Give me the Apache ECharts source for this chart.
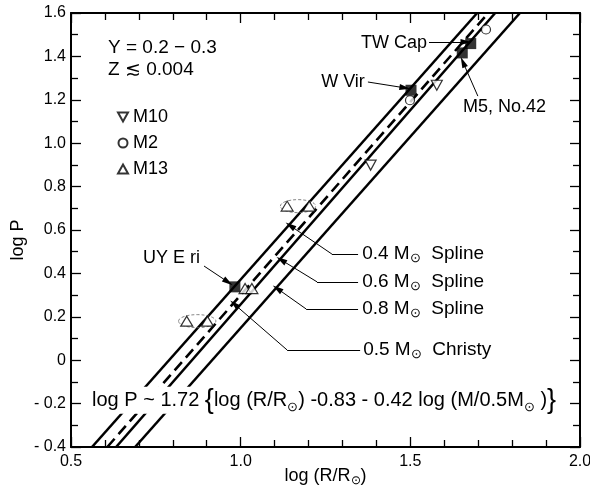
<!DOCTYPE html>
<html>
<head>
<meta charset="utf-8">
<script src="https://cdn.jsdelivr.net/npm/echarts@6/dist/echarts.min.js"></script>
<style>
html, body { margin: 0; padding: 0; background: #fff; }
#chart { width: 590px; height: 489px; }
</style>
</head>
<body>
<div id="chart"></div>
<script>
// 周期-半径关系图 (log P vs log R/R⊙)

// model lines, [log R, log P] end points
const spline04 = [[0.562, -0.4], [1.697, 1.6]];
const christy05 = [[0.607, -0.4], [1.730, 1.6]];
const spline06 = [[0.633, -0.4], [1.750, 1.6]];
const spline08 = [[0.689, -0.4], [1.823, 1.6]];

// field stars (filled squares)
const starNames = ['UY E ri', 'W Vir', 'M5, No.42', 'TW Cap'];
const starPts = [[0.983, 0.338], [1.502, 1.244], [1.653, 1.416], [1.678, 1.459]];

// cluster stars
const m10 = [[1.383, 0.899], [1.578, 1.267]];
const m2 = [[1.499, 1.198], [1.723, 1.524]];
const m13 = [[0.841, 0.180], [0.902, 0.180], [1.013, 0.330], [1.033, 0.330], [1.137, 0.710], [1.202, 0.710]];

// y tick labels
const yTicks = [-0.4, -0.2, 0, 0.2, 0.4, 0.6, 0.8, 1.0, 1.2, 1.4, 1.6];

// annotation placement (data coords)
const starLabelAt = [[0.880, 0.471, 'right'], [1.366, 1.282, 'right'], [1.655, 1.167, 'left'], [1.549, 1.461, 'right']];
const starArrows = [
    [[0.892, 0.434], [0.963, 0.360]],
    [[1.375, 1.282], [1.484, 1.255]],
    [[1.699, 1.217], [1.655, 1.374]],
    [[1.555, 1.466], [1.664, 1.466]]
];
const modelLabels = ['0.4', '0.6', '0.8', '0.5'];
const modelKinds = ['Spline', 'Spline', 'Spline', 'Christy'];
const modelLines = [spline04, spline06, spline08, christy05];
const modelLabelAt = [[1.358, 0.489], [1.358, 0.361], [1.358, 0.236], [1.361, 0.047]];
// [leader end, knee, log P where the arrow meets its line]
const modelLeaders = [
    [[1.346, 0.489], [1.269, 0.489], 0.620],
    [[1.346, 0.361], [1.225, 0.361], 0.462],
    [[1.346, 0.236], [1.193, 0.236], 0.330],
    [[1.352, 0.047], [1.137, 0.047], 0.258]
];
const pairRings = [[1.169, 0.710, 0.052, 0.030], [0.872, 0.180, 0.055, 0.030]];

const FONT = "'Liberation Sans', Arial, sans-serif";
const SUN = '\u2299';

function xOnLine(line, y) {
    const a = line[0], b = line[1];
    return a[0] + (y - a[1]) * (b[0] - a[0]) / (b[1] - a[1]);
}

function mkX(pos, labels) {
    return {
        type: 'value', position: pos, min: 0.5, max: 2.0, interval: 0.5,
        axisLine: { show: true, onZero: false, lineStyle: { color: '#000', width: 2 } },
        axisTick: { show: true, inside: true, length: 10, lineStyle: { color: '#000', width: 1.3 } },
        minorTick: { show: true, splitNumber: 5, length: 7, lineStyle: { color: '#000', width: 1.3 } },
        splitLine: { show: false }, minorSplitLine: { show: false },
        axisLabel: { show: labels, fontSize: 16, margin: 7, color: '#000', fontFamily: FONT, showMinLabel: true, showMaxLabel: true, formatter: v => v.toFixed(1) },
        name: labels ? '{n|log (R/R}{s|' + SUN + '}{n|)}' : '',
        nameLocation: 'middle', nameGap: 19, nameMoveOverlap: false,
        nameTextStyle: { rich: { n: { fontSize: 18, color: '#000', fontFamily: FONT, lineHeight: 21 }, s: { fontSize: 12, color: '#000', fontFamily: FONT, verticalAlign: 'bottom' } } }
    };
}
function mkY(pos, labels) {
    return {
        type: 'value', position: pos, min: -0.4, max: 1.6, interval: 0.2,
        axisLine: { show: true, onZero: false, lineStyle: { color: '#000', width: 2 } },
        axisTick: { show: true, inside: true, length: 10, lineStyle: { color: '#000', width: 1.3 } },
        minorTick: { show: true, splitNumber: 2, length: 7, lineStyle: { color: '#000', width: 1.3 } },
        splitLine: { show: false }, minorSplitLine: { show: false },
        axisLabel: {
            show: labels, fontSize: 16, margin: 5, color: '#000', fontFamily: FONT, showMinLabel: true, showMaxLabel: true,
            formatter: v => {
                const t = yTicks.find(k => Math.abs(k - v) < 1e-6);
                if (t === 0) return '0';
                return t < 0 ? '- ' + Math.abs(t).toFixed(1) : t.toFixed(1);
            }
        },
        name: labels ? 'log P' : '', nameLocation: 'middle', nameGap: 44, nameRotate: 90, nameMoveOverlap: false,
        nameTextStyle: { fontSize: 18, color: '#000', fontFamily: FONT, padding: [0, 20, 0, 0] }
    };
}

const lineStyle = { color: '#000', width: 2.6 };
const openStyle = { color: '#fff', borderColor: '#000', borderWidth: 1.2 };

// leader lines + arrows
const arrowEnd = c => ({ coord: c, symbol: 'triangle', symbolSize: [6, 11] });
const leaderData = [];
starArrows.forEach(a => leaderData.push([{ coord: a[0], symbol: 'none' }, arrowEnd(a[1])]));
modelLeaders.forEach((l, i) => {
    const tip = [xOnLine(modelLines[i], l[2]) + 0.005, l[2]];
    leaderData.push([{ coord: l[0], symbol: 'none' }, { coord: l[1], symbol: 'none' }]);
    leaderData.push([{ coord: l[1], symbol: 'none' }, arrowEnd(tip)]);
});

const chart = echarts.init(document.getElementById('chart'));
const option = {
    animation: false,
    textStyle: { fontFamily: FONT, color: '#000' },
    grid: { left: 71, right: 10, top: 13, bottom: 42, containLabel: false, outerBoundsMode: 'none' },
    xAxis: [mkX('bottom', true), mkX('top', false)],
    yAxis: [mkY('left', true), mkY('right', false)],
    legend: {
        orient: 'vertical', left: 112, top: 103, itemWidth: 10, itemHeight: 9, itemGap: 8,
        selectedMode: false, data: ['M10', 'M2', 'M13'],
        textStyle: { fontSize: 18, color: '#000', fontFamily: FONT }
    },
    series: [
        { name: '0.4 Spline', type: 'line', data: spline04, symbol: 'none', lineStyle: lineStyle, silent: true, z: 2,
          markLine: { silent: true, animation: false, label: { show: false }, lineStyle: { color: '#000', width: 1, type: 'solid' }, data: leaderData } },
        { name: '0.5 Christy', type: 'line', data: christy05, symbol: 'none', lineStyle: Object.assign({}, lineStyle, { type: [11, 6] }), silent: true, z: 2 },
        { name: '0.6 Spline', type: 'line', data: spline06, symbol: 'none', lineStyle: lineStyle, silent: true, z: 2 },
        { name: '0.8 Spline', type: 'line', data: spline08, symbol: 'none', lineStyle: lineStyle, silent: true, z: 2 },
        { name: 'field', type: 'scatter', data: starPts, symbol: 'rect', symbolSize: 11, itemStyle: { color: '#000' }, z: 4 },
        { name: 'M10', type: 'scatter', data: m10, symbol: 'path://M0,0L10,0L5,9Z', symbolSize: [11, 10], itemStyle: openStyle, z: 4 },
        { name: 'M2', type: 'scatter', data: m2, symbol: 'circle', symbolSize: 9, itemStyle: openStyle, z: 4 },
        { name: 'M13', type: 'scatter', data: m13, symbol: 'triangle', symbolSize: [12, 10], itemStyle: openStyle, z: 4 }
    ]
};
chart.setOption(option);

// texts placed from data coords
const toPx = p => chart.convertToPixel({ xAxisIndex: 0, yAxisIndex: 0 }, p);
const rich = {
    n: { fontSize: 18, fill: '#000', fontFamily: FONT, lineHeight: 22 },
    m: { fontSize: 19, fill: '#000', fontFamily: FONT, lineHeight: 22 },
    e: { fontSize: 20, fill: '#000', fontFamily: FONT, lineHeight: 22 },
    s: { fontSize: 13, fill: '#000', fontFamily: FONT, verticalAlign: 'bottom' },
    b: { fontSize: 27, fill: '#000', fontFamily: FONT, lineHeight: 27 }
};
function txt(text, at, align, bg, baseSize) {
    const p = toPx([at[0], at[1]]);
    const style = { text: text, rich: rich, fill: '#000', font: (baseSize || 18) + 'px ' + FONT, align: align || 'left', verticalAlign: 'middle' };
    if (bg) { style.backgroundColor = '#fff'; style.padding = [0, 2, 0, 2]; }
    return { type: 'text', x: p[0], y: p[1], silent: true, z: 10, style: style };
}
const graphics = [];
graphics.push(txt('{m|Y = 0.2 \u2212 0.3}', [0.609, 1.439]));
graphics.push(txt('{m|Z \u2272 0.004}', [0.609, 1.338]));
starNames.forEach((s, i) => graphics.push(txt('{n|' + s + '}', starLabelAt[i], starLabelAt[i][2])));
modelLabels.forEach((m, i) => graphics.push(txt('{m|' + m + ' M}{s|' + SUN + '}{m|  ' + modelKinds[i] + '}', modelLabelAt[i])));
// the closing brace sits outside the rich tokens, so it takes the big base font
graphics.push(txt('{e|log P ~ 1.72 }{b|{}{e|log (R/R}{s|' + SUN + '}{e|) -0.83 - 0.42 log (M/0.5M}{s|' + SUN + '}{e| )}}', [0.556, -0.184], 'left', true, 27));
pairRings.forEach(r => {
    const c = toPx([r[0], r[1]]);
    const e = toPx([r[0] + r[2], r[1] + r[3]]);
    graphics.push({
        type: 'ellipse', silent: true, z: 3,
        shape: { cx: c[0], cy: c[1], rx: Math.abs(e[0] - c[0]), ry: Math.abs(e[1] - c[1]) },
        style: { fill: 'none', stroke: '#666', lineWidth: 0.8, lineDash: [3, 2] }
    });
});
chart.setOption({ graphic: graphics });
window.addEventListener('resize', () => chart.resize());
</script>
</body>
</html>
